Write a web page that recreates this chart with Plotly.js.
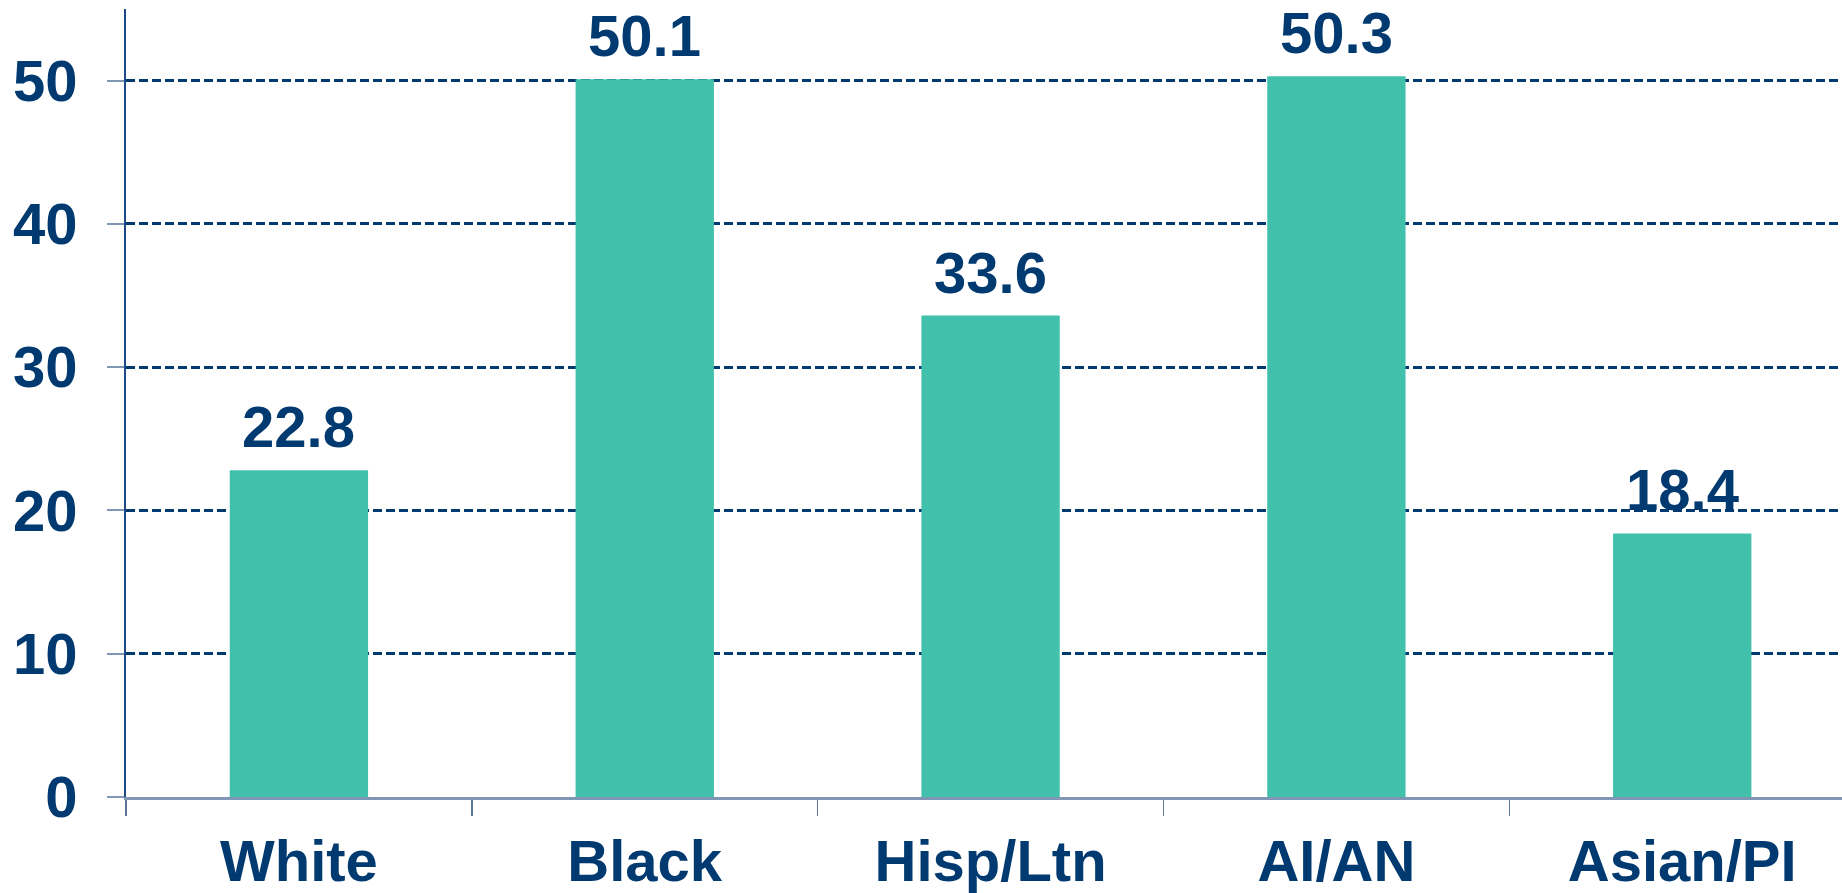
<!DOCTYPE html>
<html>
<head>
<meta charset="utf-8">
<script src="https://cdn.plot.ly/plotly-3.0.1.min.js"></script>
<style>
html, body { margin: 0; padding: 0; background: #ffffff; }
#chart { width: 1842px; height: 893px; }
</style>
</head>
<body>
<div id="chart"></div>
<script>
var categories = ["White", "Black", "Hisp/Ltn", "AI/AN", "Asian/PI"];
var values = [22.8, 50.1, 33.6, 50.3, 18.4];
var valueLabels = ["22.8", "50.1", "33.6", "50.3", "18.4"];
var yTickValues = [0, 10, 20, 30, 40, 50];

var navy = "#003a70";
var barColor = "#41c1ac";
var fontFamily = "Liberation Sans, Arial, sans-serif";
var fontSize = 58;

var trace = {
  type: "bar",
  x: categories,
  y: values,
  width: 0.4,
  marker: { color: barColor, line: { width: 0 } },
  hoverinfo: "skip"
};

var annotations = categories.map(function (c, i) {
  return {
    x: c,
    y: values[i],
    xref: "x",
    yref: "y",
    text: valueLabels[i],
    showarrow: false,
    yanchor: "bottom",
    xanchor: "center",
    yshift: 9,
    font: { family: fontFamily, size: fontSize, color: navy, weight: "bold" }
  };
});

var layout = {
  width: 1842,
  height: 893,
  margin: { l: 126, r: 0, t: 9, b: 96 },
  paper_bgcolor: "#ffffff",
  plot_bgcolor: "#ffffff",
  showlegend: false,
  bargap: 0.6,
  xaxis: {
    type: "category",
    range: [-0.5, 4.462],
    showgrid: false,
    zeroline: false,
    showline: true,
    linecolor: "#7f97b5",
    linewidth: 2.5,
    ticks: "outside",
    tickson: "boundaries",
    ticklen: 16,
    tickwidth: 1.5,
    tickcolor: "#5b7597",
    ticklabelstandoff: 12,
    tickfont: { family: fontFamily, size: fontSize, color: navy, weight: "bold" },
    fixedrange: true
  },
  yaxis: {
    range: [0, 55],
    tickvals: yTickValues,
    ticktext: yTickValues.map(String),
    showgrid: true,
    gridcolor: navy,
    gridwidth: 3,
    griddash: "9px,4px",
    zeroline: false,
    showline: true,
    linecolor: "#1d4a86",
    linewidth: 2,
    ticks: "outside",
    ticklen: 17,
    tickwidth: 2,
    tickcolor: "#7f97b5",
    ticklabelstandoff: 18,
    tickfont: { family: fontFamily, size: fontSize, color: navy, weight: "bold" },
    fixedrange: true
  },
  annotations: annotations
};

Plotly.newPlot("chart", [trace], layout, { displayModeBar: false, staticPlot: true });
</script>
</body>
</html>
